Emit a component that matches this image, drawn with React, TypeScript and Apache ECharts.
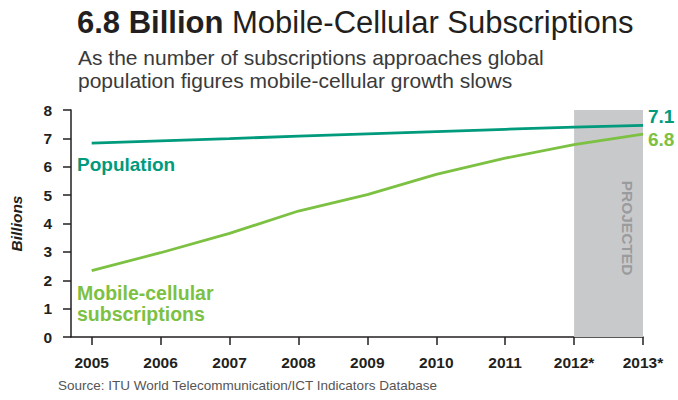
import React, { useEffect, useRef } from "react";
import * as echarts from "echarts";

const years = [2005, 2006, 2007, 2008, 2009, 2010, 2011, 2012, 2013];
const yearLabels = ["2005", "2006", "2007", "2008", "2009", "2010", "2011", "2012*", "2013*"];
const population = [6.83, 6.91, 6.99, 7.08, 7.16, 7.24, 7.32, 7.4, 7.46];
const mobile = [2.34, 2.97, 3.65, 4.44, 5.02, 5.73, 6.3, 6.78, 7.15];
const populationEndLabel = "7.1";
const mobileEndLabel = "6.8";
const projectedRange = [2012, 2013];
const yTicks = [0, 1, 2, 3, 4, 5, 6, 7, 8];

const TEAL = "#009a7c";
const GREEN = "#7cc142";
const DARK = "#231f20";
const FONT = "'Liberation Sans', Arial, Helvetica, sans-serif";

export default function App() {
  const ref = useRef<HTMLDivElement>(null);
  useEffect(() => {
    if (!ref.current) return;
    const chart = echarts.init(ref.current, null, { renderer: "svg" });
    const labelMap: Record<number, string> = {};
    years.forEach((y, i) => (labelMap[y] = yearLabels[i]));
    chart.setOption({
      animation: false,
      textStyle: { fontFamily: FONT },
      grid: { left: 56, right: 35, top: 110, bottom: 63 },
      xAxis: {
        type: "value",
        min: 2004.7,
        max: 2013,
        splitLine: { show: false },
        axisLine: { show: true, lineStyle: { color: DARK, width: 1.5 } },
        axisTick: {
          show: true,
          length: 8,
          customValues: years,
          lineStyle: { color: DARK, width: 1.5 },
        },
        axisLabel: {
          customValues: years,
          formatter: (v: number) => labelMap[Math.round(v)] ?? "",
          fontWeight: "bold",
          fontSize: 15.5,
          color: DARK,
          margin: 17,
          fontFamily: FONT,
        },
      },
      yAxis: {
        type: "value",
        min: 0,
        max: 8,
        interval: 1,
        name: "Billions",
        nameLocation: "middle",
        nameGap: 47,
        nameTextStyle: {
          fontStyle: "italic",
          fontWeight: "bold",
          fontSize: 15.5,
          color: DARK,
          fontFamily: FONT,
        },
        splitLine: { show: false },
        axisLine: { show: true, lineStyle: { color: DARK, width: 1.5 } },
        axisTick: { show: true, length: 8, lineStyle: { color: DARK, width: 1.5 } },
        axisLabel: {
          fontWeight: "bold",
          fontSize: 15.5,
          color: DARK,
          margin: 19,
          fontFamily: FONT,
          formatter: (v: number) => (yTicks.includes(v) ? String(v) : ""),
        },
      },
      series: [
        {
          name: "band",
          type: "line",
          data: [],
          silent: true,
          symbol: "none",
          markArea: {
            silent: true,
            itemStyle: { color: "#c8c9cb" },
            data: [[{ xAxis: projectedRange[0], yAxis: 0 }, { xAxis: projectedRange[1], yAxis: 8 }]],
          },
        },
        {
          name: "Population",
          type: "line",
          data: years.map((y, i) => [y, population[i]]),
          symbol: "none",
          lineStyle: { color: TEAL, width: 2.8 },
          itemStyle: { color: TEAL },
          endLabel: {
            show: true,
            formatter: () => populationEndLabel,
            color: TEAL,
            fontWeight: "bold",
            fontSize: 19,
            lineHeight: 15,
            fontFamily: FONT,
            distance: 5,
            offset: [0, -9],
          },
        },
        {
          name: "Mobile-cellular subscriptions",
          type: "line",
          data: years.map((y, i) => [y, mobile[i]]),
          symbol: "none",
          lineStyle: { color: GREEN, width: 2.8 },
          itemStyle: { color: GREEN },
          endLabel: {
            show: true,
            formatter: () => mobileEndLabel,
            color: GREEN,
            fontWeight: "bold",
            fontSize: 19,
            lineHeight: 15,
            fontFamily: FONT,
            distance: 5,
            offset: [0, 5],
          },
        },
      ],
      graphic: [
        {
          type: "text",
          left: 77,
          top: 7,
          z: 100,
          style: {
            rich: {
              b: { fontWeight: "bold", fontSize: 31, fill: DARK, fontFamily: FONT },
              n: { fontWeight: "normal", fontSize: 31, fill: DARK, fontFamily: FONT },
            },
            text: "{b|6.8 Billion }{n|Mobile-Cellular Subscriptions}",
          },
        },
        {
          type: "text",
          left: 78,
          top: 46,
          z: 100,
          style: {
            text: "As the number of subscriptions approaches global\npopulation figures mobile-cellular growth slows",
            fontSize: 21,
            lineHeight: 23,
            fill: "#3a3a3a",
            fontFamily: FONT,
          },
        },
        {
          type: "text",
          left: 77,
          top: 155,
          z: 100,
          style: { text: "Population", fontSize: 19, fontWeight: "bold", fill: TEAL, fontFamily: FONT },
        },
        {
          type: "text",
          left: 77,
          top: 282,
          z: 100,
          style: {
            text: "Mobile-cellular\nsubscriptions",
            fontSize: 19.5,
            lineHeight: 21,
            fontWeight: "bold",
            fill: GREEN,
            fontFamily: FONT,
          },
        },
        {
          type: "text",
          x: 627,
          y: 228,
          z: 100,
          rotation: -Math.PI / 2,
          style: {
            text: "PROJECTED",
            fontSize: 15.5,
            fontWeight: "bold",
            fill: "#9a9b9d",
            align: "center",
            verticalAlign: "middle",
            fontFamily: FONT,
          },
        },
        {
          type: "text",
          left: 58,
          top: 378,
          z: 100,
          style: {
            text: "Source: ITU World Telecommunication/ICT Indicators Database",
            fontSize: 13.5,
            fill: "#555555",
            fontFamily: FONT,
          },
        },
      ],
    });
    return () => chart.dispose();
  }, []);
  return <div ref={ref} style={{ width: 678, height: 400, position: "absolute", left: 0, top: 0 }} />;
}
